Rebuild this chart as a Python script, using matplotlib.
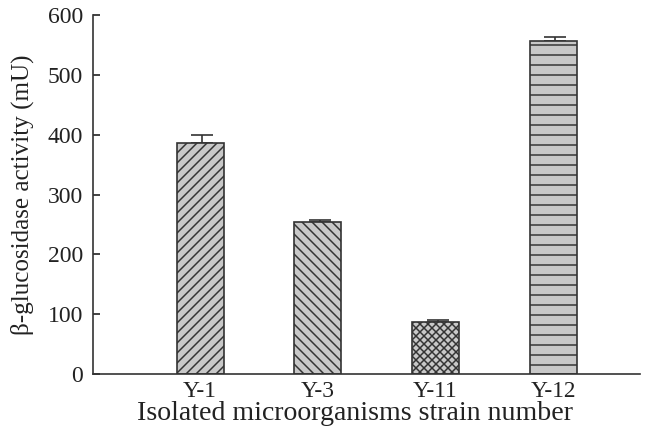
import matplotlib
matplotlib.use("Agg")
import matplotlib.pyplot as plt

strains = ["Y-1", "Y-3", "Y-11", "Y-12"]
activity = [386, 254, 87, 557]
err_up = [13, 4, 4, 7]
hatches = ["////", "\\\\\\\\", "xxxxx", "--"]

plt.rcParams['font.family'] = ['Liberation Serif', 'DejaVu Serif']
plt.rcParams['hatch.linewidth'] = 0.9
plt.rcParams['hatch.color'] = '#333333'

fig = plt.figure(figsize=(5.5, 3.6), dpi=120)
ax = fig.add_axes([0.141, 0.134, 0.829, 0.831])

x = [1, 2, 3, 4]
for xi, v, e, h in zip(x, activity, err_up, hatches):
    ax.errorbar(xi + 0.02, v, yerr=[[0], [e]], fmt='none', ecolor='#333333',
                elinewidth=1.0, capsize=6.5, capthick=1.0, zorder=1)
    ax.bar(xi, v, width=0.4, color='#c8c8c8', edgecolor='#333333',
           linewidth=1.0, hatch=h, zorder=2)

ax.set_xlim(0.09, 4.74)
ax.set_ylim(0, 600)
ax.set_yticks(range(0, 601, 100))
ax.set_xticks(x)
ax.set_xticklabels(strains)
ax.tick_params(axis='y', direction='in', length=4, width=1.0, labelsize=14.2, pad=6, colors='#222222')
ax.tick_params(axis='x', length=0, labelsize=14, pad=4, colors='#222222')
for s in ['top', 'right']:
    ax.spines[s].set_visible(False)
for s in ['left', 'bottom']:
    ax.spines[s].set_linewidth(1.0)
    ax.spines[s].set_color('#333333')

ax.set_xlabel("Isolated microorganisms strain number", fontsize=16.7, color='#222222')
ax.set_ylabel("β-glucosidase activity (mU)", fontsize=15.1, color='#222222')
ax.xaxis.set_label_coords(0.479, -0.075)
ax.yaxis.set_label_coords(-0.108, 0.5)

fig.savefig("out.png", dpi=120)
